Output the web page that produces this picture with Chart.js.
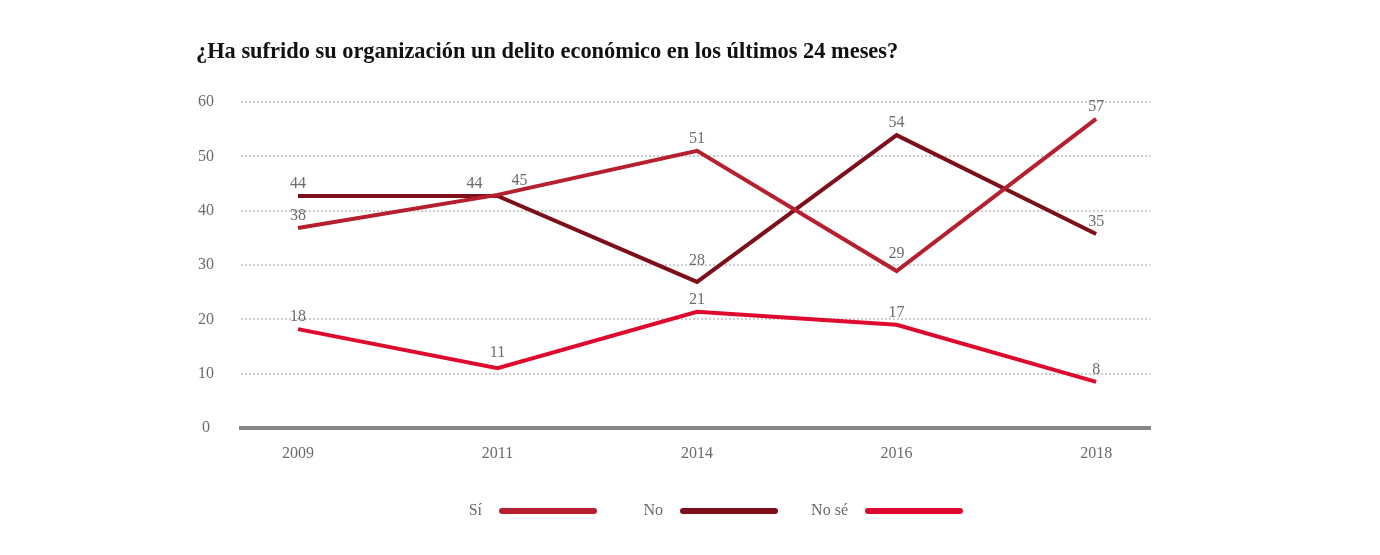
<!DOCTYPE html>
<html>
<head>
<meta charset="utf-8">
<script src="https://cdn.jsdelivr.net/npm/chart.js@4.4.1/dist/chart.umd.min.js"></script>
<style>
html,body{margin:0;padding:0;background:#fff;}
#wrap{position:relative;width:1380px;height:555px;}
</style>
</head>
<body>
<div id="wrap"><canvas id="c" width="1380" height="555"></canvas></div>
<script>
const years = ['2009', '2011', '2014', '2016', '2018'];
const seriesNames = ['Sí', 'No', 'No sé'];
const siValues = [36.8, 42.9, 51.0, 28.9, 56.9];
const noValues = [42.7, 42.7, 26.9, 53.9, 35.7];
const nsValues = [18.2, 11.0, 21.4, 19.0, 8.5];
const siLabels = ['38', '45', '51', '29', '57'];
const noLabels = ['44', '44', '28', '54', '35'];
const nsLabels = ['18', '11', '21', '17', '8'];
const yTicks = [0, 10, 20, 30, 40, 50, 60];
const titleText = '¿Ha sufrido su organización un delito económico en los últimos 24 meses?';

const colors = ['#b51f2e', '#7d0f1b', '#dd0a2d'];
const SERIF = '"Liberation Serif", "DejaVu Serif", serif';

const allValues = [siValues, noValues, nsValues];
const allLabels = [siLabels, noLabels, nsLabels];

const datasets = allValues.map((vals, d) => ({
  label: seriesNames[d],
  data: vals.map((v, i) => ({x: i, y: v})),
  borderColor: colors[d],
  backgroundColor: colors[d],
  borderWidth: 4,
  pointRadius: 0,
  pointHoverRadius: 0,
  tension: 0,
  fill: false,
  valueLabels: allLabels[d]
}));

// label nudges (dataset:index -> [dx, dy])
const nudges = {'0:1': [22, -2], '1:1': [-23, 0], '1:2': [0, -9], '0:3': [0, -5], '2:1': [0, -3]};

const extras = {
  id: 'extras',
  afterDatasetsDraw(chart) {
    const ctx = chart.ctx;
    ctx.save();
    ctx.font = '16px ' + SERIF;
    ctx.fillStyle = '#6b6b6b';
    ctx.textAlign = 'center';
    ctx.textBaseline = 'alphabetic';
    chart.data.datasets.forEach((ds, d) => {
      const meta = chart.getDatasetMeta(d);
      meta.data.forEach((pt, i) => {
        const n = nudges[d + ':' + i] || [0, 0];
        ctx.fillText(ds.valueLabels[i], pt.x + n[0], pt.y - 8 + n[1]);
      });
    });
    ctx.restore();
  },
  afterDraw(chart) {
    const ctx = chart.ctx;
    const ca = chart.chartArea;
    ctx.save();
    // title
    ctx.font = 'bold 22.4px ' + SERIF;
    ctx.fillStyle = '#111';
    ctx.textAlign = 'left';
    ctx.textBaseline = 'middle';
    ctx.fillText(titleText, ca.left - 45, 52);
    // legend
    const lineStarts = [502, 683, 868];
    const ly = 511;
    ctx.font = '16px ' + SERIF;
    ctx.textAlign = 'right';
    chart.data.datasets.forEach((ds, d) => {
      const xs = lineStarts[d];
      ctx.fillStyle = '#6b6b6b';
      ctx.fillText(ds.label, xs - 20, ly);
      ctx.strokeStyle = ds.borderColor;
      ctx.lineWidth = 6;
      ctx.lineCap = 'round';
      ctx.beginPath();
      ctx.moveTo(xs, ly);
      ctx.lineTo(xs + 92, ly);
      ctx.stroke();
    });
    ctx.restore();
  }
};

new Chart(document.getElementById('c'), {
  type: 'line',
  data: {datasets},
  options: {
    responsive: false,
    animation: false,
    events: [],
    layout: {padding: {left: 196, right: 230, top: 102, bottom: 87}},
    plugins: {legend: {display: false}, tooltip: {enabled: false}, title: {display: false}},
    scales: {
      x: {
        type: 'linear',
        min: -0.2857,
        max: 4.27,
        afterBuildTicks: s => { s.ticks = years.map((y, i) => ({value: i})); },
        afterFit: s => { s.height = 40; },
        ticks: {
          callback: (v) => years[v],
          font: {family: SERIF, size: 16},
          color: '#6b6b6b',
          padding: 8,
          maxRotation: 0
        },
        grid: {display: false},
        border: {display: true, color: '#878787', width: 4}
      },
      y: {
        min: 0,
        max: 60,
        afterBuildTicks: s => { s.ticks = yTicks.map(v => ({value: v})); },
        afterFit: s => { s.width = 45; },
        ticks: {
          font: {family: SERIF, size: 16},
          color: '#6b6b6b',
          padding: 27,
          crossAlign: 'center'
        },
        grid: {color: '#cdcdcd', lineWidth: 2, drawTicks: false},
        border: {display: false, dash: [2, 2]}
      }
    }
  },
  plugins: [extras]
});
</script>
</body>
</html>
